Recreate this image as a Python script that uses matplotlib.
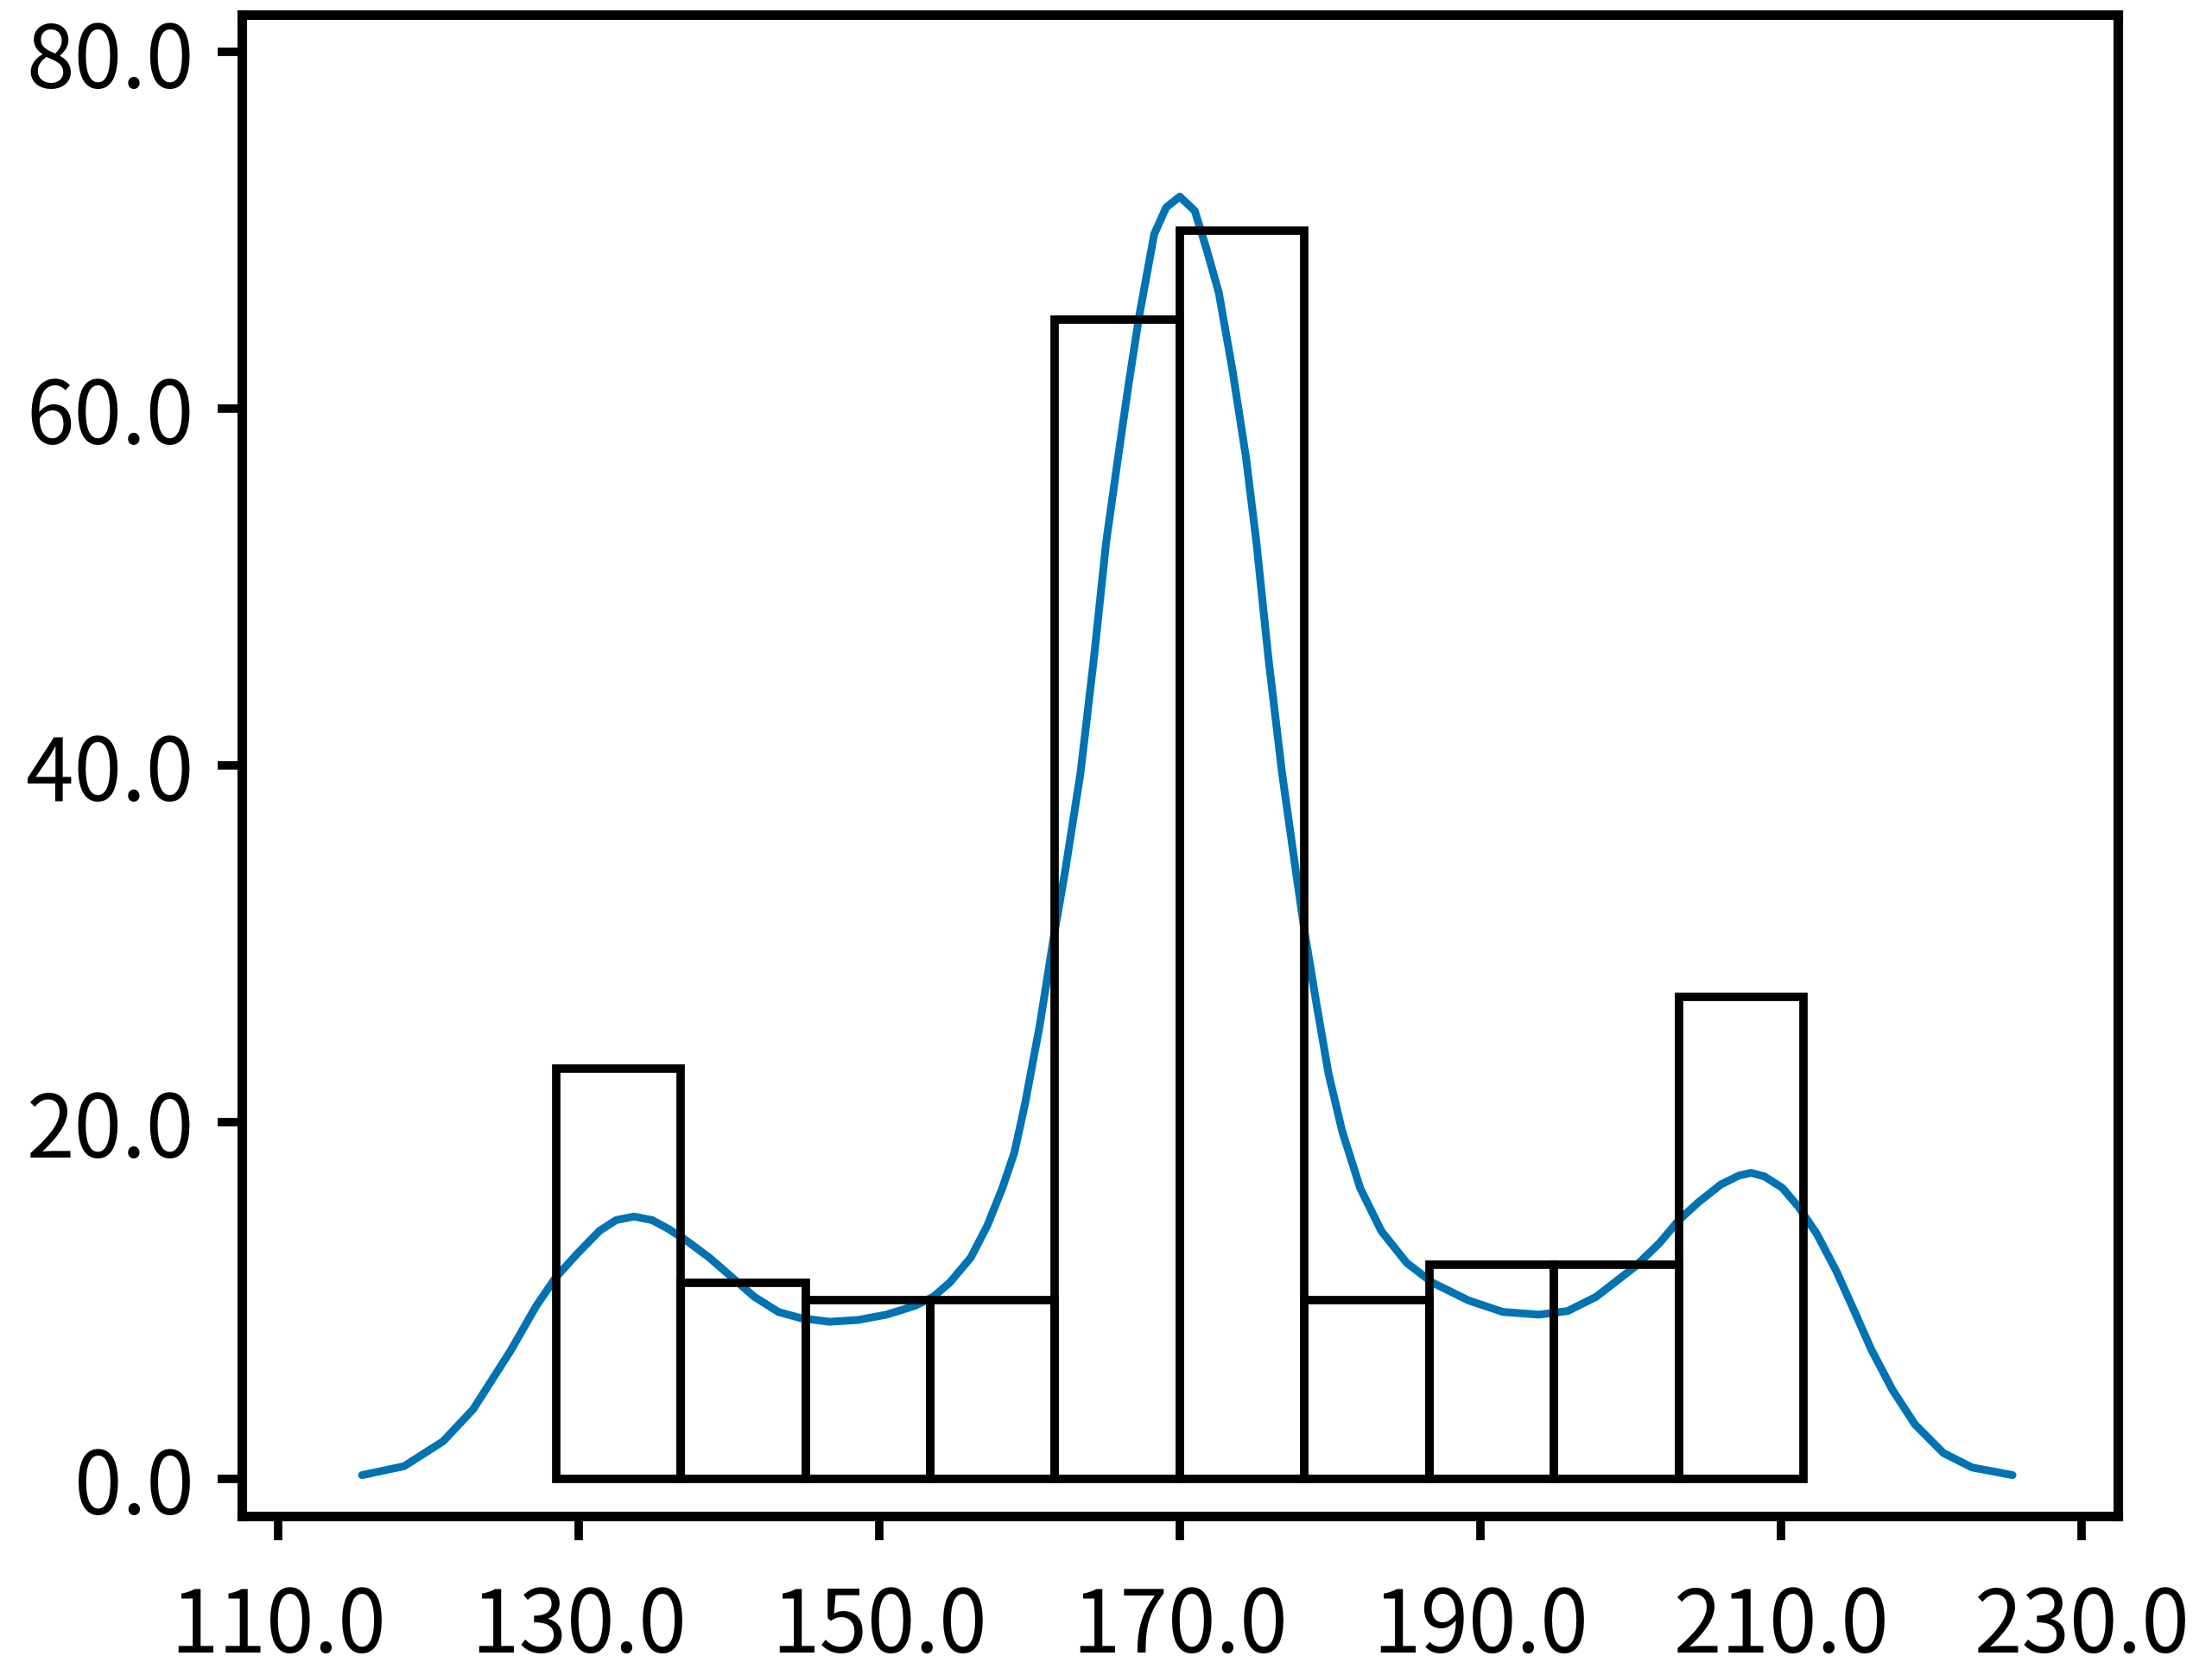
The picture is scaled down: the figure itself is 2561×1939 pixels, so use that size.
import matplotlib
matplotlib.use("Agg")
import matplotlib.pyplot as plt
from matplotlib.ticker import FormatStrFormatter

# histogram: bin edges and counts
bin_edges = [128.5, 136.8, 145.1, 153.4, 161.7, 170.0, 178.3, 186.6, 194.9, 203.2, 211.5]
counts = [23, 11, 10, 10, 65, 70, 10, 12, 12, 27]

# density curve (scaled to counts), traced point by point
kde_x = [115.6, 118.4, 121.0, 123.0, 125.5, 127.2, 128.5, 129.9, 131.4, 132.5,
         133.7, 134.9, 136.0, 137.1, 138.7, 140.2, 141.7, 143.3, 144.8, 146.7,
         148.6, 150.5, 152.4, 153.6, 154.7, 156.1, 157.2, 158.2, 159.0, 159.7,
         160.7, 161.6, 162.4, 163.4, 164.3, 165.1, 165.9, 166.6, 167.3, 167.8,
         168.3, 169.1, 170.0, 171.0, 171.8, 172.6, 173.5, 174.4, 175.1, 175.9,
         176.8, 177.7, 178.3, 179.1, 179.9, 180.8, 182.0, 183.4, 185.1, 186.8,
         189.2, 191.5, 193.9, 195.8, 197.7, 200.3, 201.9, 203.2, 204.5, 206.0,
         207.2, 208.0, 208.9, 210.1, 211.2, 212.4, 213.7, 214.9, 216.0, 217.4,
         218.9, 220.8, 222.7, 225.4]
kde_y = [0.2, 0.7, 2.1, 3.9, 7.2, 9.7, 11.3, 12.6, 13.9, 14.5,
         14.7, 14.5, 14.0, 13.4, 12.4, 11.3, 10.2, 9.35, 9.0, 8.8,
         8.9, 9.2, 9.7, 10.2, 11.0, 12.4, 14.2, 16.3, 18.3, 21.0,
         25.5, 30.3, 34.2, 39.6, 46.1, 52.5, 57.3, 61.4, 65.2, 67.5,
         69.8, 71.3, 71.9, 71.1, 68.9, 66.5, 62.2, 57.3, 52.5, 46.0,
         39.6, 34.2, 30.7, 26.6, 22.7, 19.5, 16.3, 13.9, 12.1, 11.0,
         10.0, 9.35, 9.2, 9.4, 10.2, 11.9, 13.2, 14.5, 15.5, 16.5,
         17.0, 17.15, 16.95, 16.3, 15.2, 13.7, 11.6, 9.35, 7.25, 5.0,
         3.05, 1.44, 0.63, 0.2]

x_ticks = [110, 130, 150, 170, 190, 210, 230]
y_ticks = [0, 20, 40, 60, 80]

plt.rcParams["font.family"] = ["Noto Sans CJK SC", "DejaVu Sans"]

fig = plt.figure(figsize=(25.61, 19.40), dpi=100)
ax = fig.add_axes([0.1093, 0.0948, 0.8481, 0.8959])

ax.plot(kde_x, kde_y, color="#0173B2", linewidth=6.5, zorder=2,
        solid_capstyle="round", solid_joinstyle="round")

widths = [b - a for a, b in zip(bin_edges[:-1], bin_edges[1:])]
ax.bar(bin_edges[:-1], counts, width=widths, align="edge", fill=False,
       edgecolor="black", linewidth=7, zorder=3)

ax.set_xlim(107.6, 232.4)
ax.set_ylim(-2.1, 82.1)
ax.set_xticks(x_ticks)
ax.set_yticks(y_ticks)
ax.xaxis.set_major_formatter(FormatStrFormatter("%.1f"))
ax.yaxis.set_major_formatter(FormatStrFormatter("%.1f"))
ax.tick_params(axis="both", labelsize=72, length=20, width=7, pad=20,
               colors="black")
ax.tick_params(axis="x", pad=35)
for s in ax.spines.values():
    s.set_linewidth(8)
    s.set_color("black")

fig.savefig("out.png", dpi=100, facecolor="white")
